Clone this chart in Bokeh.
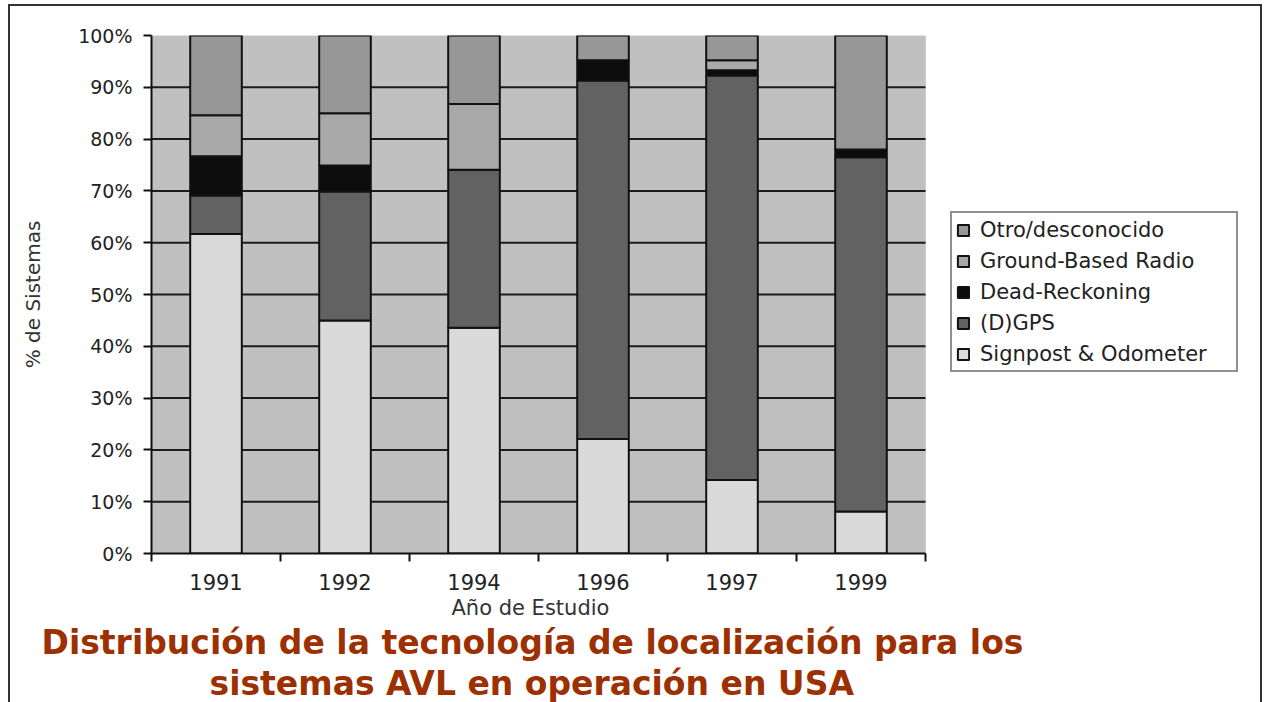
from bokeh.plotting import figure
from bokeh.models import (ColumnDataSource, Range1d, FixedTicker, Legend, LegendItem,
                          Title, PrintfTickFormatter, BoxAnnotation)
from bokeh.embed import file_html
from bokeh.resources import INLINE

# ---- data (percent of systems) ----
years = ["1991", "1992", "1994", "1996", "1997", "1999"]
signpost = [61.7, 45.0, 43.6, 22.1, 14.2, 8.1]
dgps = [7.4, 24.9, 30.5, 69.2, 78.1, 68.4]
dead_reckoning = [7.6, 5.0, 0.0, 3.9, 1.0, 1.5]
ground_radio = [7.9, 10.1, 12.7, 0.0, 1.9, 0.0]
otro = [15.4, 15.0, 13.2, 4.8, 4.8, 22.0]

series_keys = ["signpost", "dgps", "dead", "radio", "otro"]
series_names = ["Signpost & Odometer", "(D)GPS", "Dead-Reckoning",
                "Ground-Based Radio", "Otro/desconocido"]
series_colors = ["#dadada", "#626262", "#0c0c0c", "#a9a9a9", "#979797"]
y_ticks = list(range(0, 101, 10))

n = len(years)
x = [i + 0.5 for i in range(n)]
source = ColumnDataSource(dict(x=x, signpost=signpost, dgps=dgps, dead=dead_reckoning,
                               radio=ground_radio, otro=otro))

FONT = "DejaVu Sans"

# layout in pixels
W, H = 1254, 698
LEFT, RIGHT, TOP, BOTTOM = 141, 10, 29, 151
chart_px = 774                      # width of the grey chart area
frame_px = W - LEFT - RIGHT
x_end = n * frame_px / chart_px     # extra room on the right holds the legend

p = figure(width=W, height=H,
           x_range=Range1d(0, x_end), y_range=Range1d(0, 100),
           output_backend="svg", toolbar_location=None,
           min_border_left=LEFT, min_border_right=RIGHT,
           min_border_top=TOP, min_border_bottom=BOTTOM,
           background_fill_color="white", border_fill_color="white")
p.styles = {"margin-left": "8px", "margin-top": "4px",
            "border-left": "2px solid #333", "border-top": "2px solid #333",
            "border-right": "2px solid #333"}
p.outline_line_color = None

# grey chart background
bg = BoxAnnotation(left=0, right=n, bottom=0, top=100, fill_color="#c0c0c0",
                   fill_alpha=1, line_color="#a8a8a8", line_width=1, level="underlay")
p.add_layout(bg)

# horizontal grid lines, limited to the chart area
p.xgrid.grid_line_color = None
p.ygrid.grid_line_color = None
inner = y_ticks[1:-1]
p.segment(x0=[0] * len(inner), x1=[n] * len(inner), y0=inner, y1=inner,
          line_color="#1c1c1c", line_width=2)

renderers = p.vbar_stack(series_keys, x="x", width=0.4, source=source,
                         fill_color=series_colors, line_color="#111111", line_width=2)

# y axis
p.yaxis.ticker = FixedTicker(ticks=y_ticks)
p.yaxis.formatter = PrintfTickFormatter(format="%d%%")
p.yaxis.major_tick_out = 8
p.yaxis.major_tick_in = 0
p.yaxis.minor_tick_line_color = None
p.yaxis.axis_line_width = 2
p.yaxis.axis_line_color = "#111111"
p.yaxis.major_tick_line_width = 2
p.yaxis.major_tick_line_color = "#111111"
p.yaxis.major_label_text_font = FONT
p.yaxis.major_label_text_font_size = "19px"
p.yaxis.major_label_text_color = "#222222"
p.yaxis.major_label_standoff = 11
p.yaxis.axis_label = "% de Sistemas"
p.yaxis.axis_label_text_font = FONT
p.yaxis.axis_label_text_font_size = "20px"
p.yaxis.axis_label_text_font_style = "normal"
p.yaxis.axis_label_text_color = "#333333"
p.yaxis.axis_label_standoff = 30

# x axis
p.xaxis.bounds = (0, n)
p.xaxis.ticker = FixedTicker(ticks=x, minor_ticks=list(range(0, n + 1)))
p.xaxis.major_label_overrides = {xi: yr for xi, yr in zip(x, years)}
p.xaxis.major_tick_line_color = None
p.xaxis.major_tick_out = 0
p.xaxis.major_tick_in = 0
p.xaxis.minor_tick_out = 8
p.xaxis.minor_tick_in = 0
p.xaxis.minor_tick_line_width = 2
p.xaxis.minor_tick_line_color = "#111111"
p.xaxis.axis_line_width = 2
p.xaxis.axis_line_color = "#111111"
p.xaxis.major_label_text_font = FONT
p.xaxis.major_label_text_font_size = "21px"
p.xaxis.major_label_text_color = "#222222"
p.xaxis.major_label_standoff = 12

# legend (top entry first)
items = [LegendItem(label=nm, renderers=[r]) for nm, r in zip(series_names, renderers)]
items = items[::-1]
legend = Legend(items=items, location=(799, 181),
                label_text_font=FONT, label_text_font_size="21px",
                label_text_color="#222222",
                label_height=25, label_width=252, glyph_width=14, glyph_height=14,
                label_standoff=10, spacing=6, padding=4, margin=0,
                border_line_color="#222222", border_line_width=2,
                background_fill_color="white", background_fill_alpha=1)
p.add_layout(legend, "center")

# x axis title (centred under the chart area) and chart title below it
t0 = Title(text="Año de Estudio", align="left", offset=300, text_font=FONT,
           text_font_size="21px", text_font_style="normal", text_color="#333333",
           standoff=2)
t1 = Title(text="Distribución de la tecnología de localización para los",
           align="left", offset=-110, text_font=FONT, text_font_size="33px",
           text_font_style="bold", text_color="#9c3000", standoff=0)
t2 = Title(text="sistemas AVL en operación en USA",
           align="left", offset=58, text_font=FONT, text_font_size="33px",
           text_font_style="bold", text_color="#9c3000", standoff=0)
p.add_layout(t0, "below")
p.add_layout(t1, "below")
p.add_layout(t2, "below")

open("out.html", "w").write(file_html(p, INLINE))
